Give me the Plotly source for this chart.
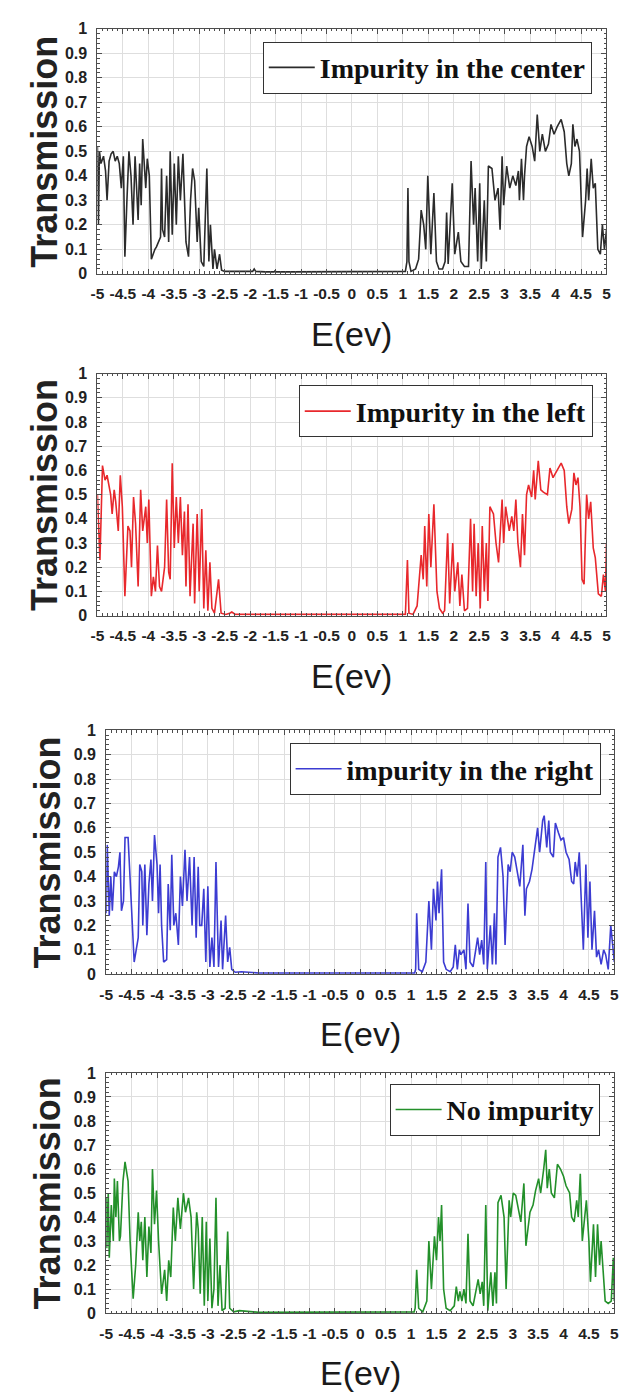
import plotly.graph_objects as go

# ---------------- data ----------------
E_center = [-5.00,-4.98,-4.96,-4.93,-4.88,-4.84,-4.81,-4.77,-4.73,-4.69,-4.65,-4.61,-4.57,-4.53,-4.49,-4.46,-4.42,-4.38,-4.34,-4.30,
            -4.26,-4.23,-4.20,-4.17,-4.14,-4.11,-4.07,-4.05,-4.02,-3.98,-3.94,-3.91,-3.87,-3.84,-3.80,-3.76,-3.74,-3.72,-3.68,-3.64,
            -3.60,-3.57,-3.53,-3.49,-3.45,-3.41,-3.37,-3.32,-3.28,-3.26,-3.21,-3.17,-3.13,-3.09,-3.04,-3.01,-2.96,-2.91,-2.85,-2.81,
            -2.78,-2.73,-2.70,-2.65,-2.60,-2.56,-2.50,-2.30,-2.10,-1.95,-1.92,-1.89,-1.70,-1.53,-1.51,-1.49,-1.20,-0.80,-0.40,0.00,
            0.40,0.80,1.00,1.05,1.08,1.10,1.12,1.16,1.25,1.31,1.36,1.41,1.45,1.49,1.55,1.61,1.66,1.71,1.78,1.83,
            1.86,1.89,1.97,2.02,2.09,2.14,2.21,2.29,2.34,2.39,2.42,2.47,2.51,2.54,2.60,2.64,2.68,2.75,2.81,2.87,
            2.91,2.95,2.98,3.04,3.10,3.16,3.22,3.27,3.29,3.33,3.37,3.39,3.43,3.48,3.54,3.59,3.64,3.69,3.74,3.80,
            3.86,3.91,3.97,4.03,4.11,4.17,4.22,4.26,4.31,4.34,4.38,4.42,4.47,4.50,4.53,4.59,4.62,4.65,4.70,4.74,
            4.78,4.83,4.88,4.92,4.96,5.00]
T_center = [0.52,0.20,0.50,0.45,0.48,0.42,0.30,0.46,0.49,0.50,0.46,0.48,0.45,0.35,0.48,0.07,0.30,0.50,0.40,0.20,
            0.48,0.35,0.22,0.45,0.28,0.55,0.40,0.35,0.47,0.40,0.06,0.08,0.10,0.11,0.13,0.15,0.43,0.18,0.15,0.40,
            0.13,0.50,0.16,0.45,0.20,0.48,0.30,0.49,0.25,0.13,0.07,0.30,0.43,0.38,0.13,0.27,0.05,0.03,0.43,0.05,
            0.20,0.02,0.10,0.02,0.08,0.015,0.01,0.01,0.008,0.01,0.02,0.01,0.008,0.008,0.012,0.008,0.008,0.008,0.008,0.008,
            0.008,0.008,0.008,0.01,0.05,0.35,0.05,0.01,0.02,0.06,0.26,0.20,0.10,0.40,0.08,0.33,0.05,0.02,0.02,0.05,
            0.25,0.04,0.37,0.08,0.17,0.05,0.03,0.03,0.46,0.20,0.35,0.05,0.37,0.02,0.30,0.05,0.44,0.43,0.30,0.35,
            0.18,0.48,0.28,0.44,0.35,0.40,0.36,0.42,0.30,0.47,0.30,0.40,0.52,0.56,0.52,0.46,0.65,0.50,0.57,0.50,
            0.53,0.61,0.57,0.60,0.63,0.58,0.45,0.40,0.45,0.61,0.52,0.55,0.50,0.30,0.15,0.30,0.43,0.30,0.47,0.35,
            0.37,0.10,0.08,0.20,0.10,0.18]

E_left = [-5.00,-4.98,-4.95,-4.90,-4.85,-4.81,-4.74,-4.71,-4.67,-4.64,-4.59,-4.55,-4.51,-4.46,-4.40,-4.36,-4.33,-4.29,-4.25,-4.20,
          -4.15,-4.11,-4.05,-4.02,-3.99,-3.94,-3.90,-3.86,-3.82,-3.78,-3.74,-3.68,-3.64,-3.60,-3.57,-3.53,-3.49,-3.45,-3.41,-3.37,
          -3.33,-3.29,-3.26,-3.22,-3.18,-3.12,-3.09,-3.04,-3.00,-2.95,-2.91,-2.87,-2.83,-2.79,-2.75,-2.70,-2.62,-2.57,-2.48,-2.40,
          -2.36,-2.29,-2.00,-1.50,-1.00,-0.50,0.00,0.50,1.00,1.05,1.09,1.12,1.20,1.28,1.36,1.40,1.43,1.47,1.51,1.55,
          1.61,1.67,1.72,1.78,1.82,1.88,1.92,1.98,2.02,2.08,2.12,2.16,2.21,2.27,2.33,2.37,2.40,2.44,2.48,2.52,
          2.56,2.60,2.64,2.67,2.71,2.78,2.83,2.88,2.95,2.98,3.02,3.09,3.14,3.18,3.22,3.26,3.31,3.35,3.39,3.43,
          3.47,3.53,3.57,3.60,3.66,3.71,3.76,3.84,3.89,3.95,4.03,4.11,4.17,4.22,4.26,4.32,4.36,4.40,4.44,4.48,
          4.52,4.56,4.61,4.65,4.69,4.74,4.78,4.84,4.90,4.94,4.98,5.00]
T_left = [0.50,0.40,0.23,0.62,0.56,0.58,0.50,0.42,0.52,0.47,0.35,0.58,0.45,0.08,0.37,0.35,0.20,0.49,0.38,0.12,
          0.52,0.35,0.45,0.30,0.48,0.08,0.16,0.10,0.29,0.12,0.10,0.20,0.48,0.18,0.15,0.63,0.28,0.49,0.30,0.49,
          0.25,0.43,0.12,0.46,0.08,0.38,0.05,0.42,0.10,0.44,0.03,0.27,0.02,0.22,0.03,0.01,0.15,0.01,0.005,0.01,
          0.015,0.005,0.005,0.005,0.005,0.005,0.005,0.005,0.005,0.005,0.23,0.01,0.005,0.04,0.25,0.15,0.37,0.12,0.42,0.20,
          0.46,0.10,0.03,0.01,0.02,0.34,0.05,0.30,0.10,0.22,0.04,0.17,0.02,0.03,0.40,0.10,0.38,0.08,0.30,0.03,
          0.37,0.10,0.30,0.06,0.45,0.42,0.30,0.22,0.48,0.30,0.45,0.35,0.41,0.35,0.48,0.30,0.20,0.42,0.25,0.50,
          0.54,0.49,0.60,0.48,0.64,0.52,0.51,0.50,0.61,0.57,0.60,0.63,0.60,0.45,0.38,0.44,0.59,0.54,0.57,0.45,
          0.15,0.13,0.50,0.40,0.47,0.28,0.24,0.09,0.08,0.17,0.10,0.30]

E_right = [-5.00,-4.98,-4.94,-4.91,-4.88,-4.84,-4.80,-4.76,-4.73,-4.70,-4.66,-4.63,-4.57,-4.51,-4.45,-4.37,-4.34,-4.30,-4.28,-4.24,
           -4.20,-4.16,-4.12,-4.09,-4.05,-4.00,-3.97,-3.94,-3.91,-3.87,-3.81,-3.78,-3.74,-3.71,-3.67,-3.63,-3.58,-3.54,-3.50,-3.45,
           -3.41,-3.36,-3.31,-3.27,-3.23,-3.19,-3.16,-3.12,-3.08,-3.04,-3.00,-2.96,-2.92,-2.88,-2.84,-2.79,-2.74,-2.71,-2.65,-2.61,
           -2.57,-2.53,-2.46,-2.34,-2.00,-1.50,-1.00,-0.50,0.00,0.50,1.00,1.07,1.09,1.11,1.15,1.22,1.29,1.35,1.40,1.44,
           1.49,1.52,1.55,1.60,1.64,1.69,1.77,1.83,1.87,1.91,1.95,1.98,2.04,2.08,2.12,2.16,2.22,2.27,2.31,2.35,
           2.39,2.43,2.47,2.50,2.56,2.60,2.64,2.67,2.71,2.76,2.81,2.85,2.91,2.95,2.99,3.04,3.10,3.14,3.20,3.24,
           3.27,3.33,3.38,3.43,3.49,3.53,3.59,3.62,3.67,3.71,3.74,3.80,3.84,3.90,3.95,4.00,4.05,4.11,4.16,4.20,
           4.23,4.27,4.31,4.35,4.39,4.44,4.48,4.52,4.56,4.61,4.65,4.69,4.74,4.79,4.83,4.88,4.93,5.00]
T_right = [0.25,0.53,0.24,0.40,0.26,0.42,0.40,0.44,0.50,0.26,0.30,0.56,0.56,0.30,0.05,0.15,0.45,0.42,0.20,0.45,
           0.16,0.37,0.47,0.30,0.57,0.45,0.25,0.45,0.20,0.05,0.06,0.37,0.18,0.49,0.20,0.25,0.12,0.40,0.28,0.51,
           0.30,0.48,0.20,0.48,0.15,0.44,0.20,0.20,0.35,0.05,0.36,0.03,0.15,0.03,0.46,0.03,0.22,0.02,0.24,0.05,
           0.11,0.02,0.008,0.01,0.005,0.005,0.005,0.005,0.005,0.005,0.005,0.005,0.02,0.25,0.02,0.01,0.05,0.30,0.10,0.35,
           0.22,0.38,0.25,0.43,0.05,0.02,0.01,0.03,0.12,0.02,0.10,0.08,0.10,0.02,0.29,0.05,0.03,0.10,0.15,0.08,
           0.14,0.04,0.46,0.02,0.20,0.04,0.25,0.04,0.48,0.52,0.40,0.12,0.45,0.42,0.50,0.48,0.40,0.36,0.53,0.24,
           0.35,0.38,0.43,0.51,0.60,0.50,0.63,0.65,0.52,0.63,0.50,0.48,0.62,0.58,0.55,0.56,0.50,0.47,0.38,0.37,
           0.46,0.40,0.50,0.30,0.10,0.45,0.15,0.38,0.10,0.26,0.07,0.10,0.04,0.10,0.08,0.02,0.20,0.05]

E_none = [-5.00,-4.99,-4.96,-4.94,-4.90,-4.86,-4.84,-4.81,-4.78,-4.74,-4.72,-4.67,-4.63,-4.57,-4.53,-4.47,-4.42,-4.37,-4.34,-4.31,
          -4.28,-4.24,-4.20,-4.16,-4.12,-4.09,-4.05,-4.01,-3.97,-3.91,-3.85,-3.81,-3.77,-3.73,-3.68,-3.64,-3.59,-3.54,-3.48,-3.44,
          -3.38,-3.33,-3.28,-3.22,-3.19,-3.15,-3.11,-3.07,-3.03,-3.00,-2.96,-2.92,-2.88,-2.84,-2.80,-2.76,-2.72,-2.66,-2.61,-2.57,
          -2.49,-2.38,-2.00,-1.50,-1.00,-0.50,0.00,0.50,1.00,1.06,1.08,1.11,1.15,1.23,1.31,1.35,1.40,1.46,1.50,1.54,
          1.57,1.60,1.64,1.69,1.77,1.85,1.89,1.93,1.96,2.00,2.04,2.08,2.12,2.16,2.22,2.28,2.32,2.36,2.40,2.43,
          2.47,2.51,2.57,2.61,2.65,2.68,2.71,2.77,2.83,2.87,2.93,2.96,3.01,3.06,3.12,3.16,3.22,3.26,3.30,3.34,
          3.40,3.45,3.51,3.55,3.61,3.65,3.68,3.72,3.76,3.82,3.88,3.94,4.00,4.05,4.12,4.16,4.21,4.26,4.29,4.33,
          4.37,4.41,4.45,4.50,4.53,4.59,4.63,4.67,4.71,4.74,4.78,4.82,4.88,4.94,4.98,5.00]
T_none = [0.48,0.27,0.50,0.23,0.45,0.30,0.56,0.40,0.55,0.30,0.32,0.55,0.63,0.55,0.30,0.06,0.20,0.42,0.30,0.38,
          0.22,0.40,0.15,0.36,0.25,0.60,0.37,0.51,0.30,0.08,0.18,0.05,0.22,0.15,0.44,0.30,0.48,0.35,0.50,0.42,
          0.48,0.40,0.10,0.42,0.35,0.08,0.40,0.03,0.38,0.05,0.31,0.02,0.10,0.48,0.03,0.20,0.01,0.02,0.34,0.02,
          0.005,0.01,0.003,0.003,0.003,0.003,0.003,0.003,0.003,0.005,0.02,0.18,0.02,0.005,0.05,0.30,0.10,0.32,0.22,0.40,
          0.30,0.45,0.10,0.02,0.01,0.03,0.11,0.05,0.09,0.05,0.10,0.04,0.33,0.05,0.03,0.10,0.14,0.08,0.13,0.03,
          0.45,0.01,0.17,0.03,0.17,0.04,0.46,0.49,0.40,0.10,0.47,0.40,0.50,0.49,0.42,0.38,0.54,0.28,0.35,0.42,
          0.45,0.51,0.56,0.50,0.60,0.68,0.52,0.60,0.50,0.48,0.62,0.60,0.57,0.53,0.50,0.40,0.38,0.47,0.40,0.58,
          0.30,0.40,0.47,0.30,0.13,0.37,0.15,0.37,0.20,0.30,0.18,0.05,0.04,0.05,0.23,0.05]

SERIES_NAMES = ["Impurity in the center", "Impurity in the left", "impurity in the right", "No impurity"]
X_TICK_VALUES = [-5, -4.5, -4, -3.5, -3, -2.5, -2, -1.5, -1, -0.5, 0, 0.5, 1, 1.5, 2, 2.5, 3, 3.5, 4, 4.5, 5]
X_TICK_LABELS = ["-5", "-4.5", "-4", "-3.5", "-3", "-2.5", "-2", "-1.5", "-1", "-0.5", "0", "0.5",
                 "1", "1.5", "2", "2.5", "3", "3.5", "4", "4.5", "5"]
Y_TICK_VALUES = [0, 0.1, 0.2, 0.3, 0.4, 0.5, 0.6, 0.7, 0.8, 0.9, 1]
Y_TICK_LABELS = ["0", "0.1", "0.2", "0.3", "0.4", "0.5", "0.6", "0.7", "0.8", "0.9", "1"]
X_TITLE = "E(ev)"
Y_TITLE = "Transmission"

series = [(E_center, T_center), (E_left, T_left), (E_right, T_right), (E_none, T_none)]
for ex, ty in series:
    assert len(ex) == len(ty), (len(ex), len(ty))

# ---------------- layout / style ----------------
W, H = 628, 1399
COLORS = ["#2b2b2b", "#e8282c", "#3c3cd2", "#23902a"]
# plot boxes in pixels: (left, right, top, bottom)
BOXES = [(84, 603, 13, 261), (84, 603, 362, 607), (93, 611, 723, 970), (93, 611, 1070, 1313)]
# legend anchors in pixels (right, top)
LEG = [(588, 26), (589, 374), (597, 736), (596, 1081)]
YTITLE_X = [30, 30, 33, 33]

SANS = "Liberation Sans, Arial, sans-serif"
SERIF = "Liberation Serif, Times New Roman, serif"
AX = "#4d4d4d"
GRID = "#dedede"

fig = go.Figure()
layout = dict(width=W, height=H, margin=dict(l=0, r=0, t=0, b=0),
              paper_bgcolor="white", plot_bgcolor="white", showlegend=True,
              annotations=[])

for i, ((ex, ty), name, col, box, leg) in enumerate(zip(series, SERIES_NAMES, COLORS, BOXES, LEG)):
    k = "" if i == 0 else str(i + 1)
    lname = "legend" + k
    fig.add_trace(go.Scatter(x=ex, y=ty, mode="lines", name=name,
                             line=dict(color=col, width=1.6),
                             xaxis="x" + k, yaxis="y" + k, legend=lname))
    l, r, t, b = box
    xd = [l / W, r / W]
    yd = [1 - b / H, 1 - t / H]
    layout["xaxis" + k] = dict(
        domain=xd, anchor="y" + k, range=[-5, 5],
        tickmode="array", tickvals=X_TICK_VALUES, ticktext=X_TICK_LABELS, tickangle=0,
        ticks="inside", ticklen=5, tickcolor=AX, tickwidth=1,
        showline=True, linecolor=AX, linewidth=1, mirror="allticks",
        showgrid=True, gridcolor=GRID, gridwidth=1, zeroline=False,
        minor=dict(tickmode="linear", tick0=-5, dtick=0.1, ticks="inside", ticklen=2.5,
                   tickcolor=AX, showgrid=False),
        tickfont=dict(family=SANS, size=15.5, color="#222222", weight="bold"),
        ticklabelstandoff=6,
    )
    layout["yaxis" + k] = dict(
        domain=yd, anchor="x" + k, range=[0, 1],
        tickmode="array", tickvals=Y_TICK_VALUES, ticktext=Y_TICK_LABELS,
        ticks="inside", ticklen=5, tickcolor=AX, tickwidth=1,
        showline=True, linecolor=AX, linewidth=1, mirror="allticks",
        showgrid=True, gridcolor=GRID, gridwidth=1, zeroline=False,
        minor=dict(tickmode="linear", tick0=0, dtick=0.02, ticks="inside", ticklen=2.5,
                   tickcolor=AX, showgrid=False),
        tickfont=dict(family=SANS, size=16, color="#222222", weight="bold"),
        ticklabelstandoff=6,
    )
    layout[lname] = dict(
        x=leg[0] / W, y=1 - leg[1] / H, xanchor="right", yanchor="top",
        bgcolor="white", bordercolor="#333333", borderwidth=1,
        font=dict(family=SERIF, size=28, color="#111111", weight="bold"),
        itemwidth=46, tracegroupgap=0,
    )
    layout["annotations"].append(dict(
        text=Y_TITLE, xref="paper", yref="paper", x=YTITLE_X[i] / W, y=1 - (t + b) / 2 / H,
        xanchor="center", yanchor="middle", textangle=-90, showarrow=False,
        font=dict(family=SANS, size=36, color="#222222", weight="bold")))
    layout["annotations"].append(dict(
        text=X_TITLE, xref="paper", yref="paper", x=(l + r) / 2 / W, y=1 - (b + 61) / H,
        xanchor="center", yanchor="middle", showarrow=False,
        font=dict(family=SANS, size=34, color="#1a1a1a")))

fig.update_layout(**layout)
fig.write_html("out.html")
